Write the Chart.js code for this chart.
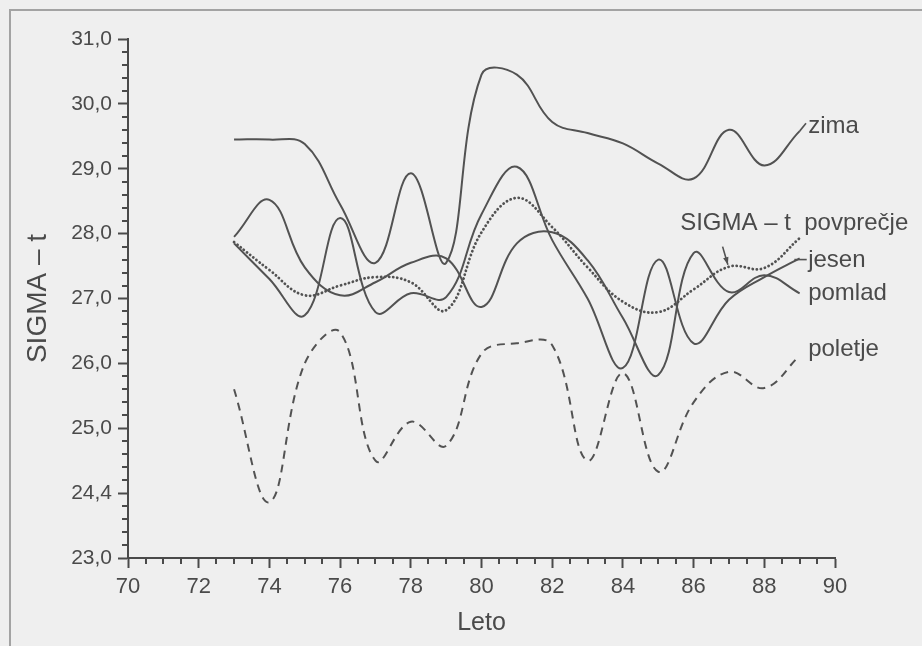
<!DOCTYPE html>
<html>
<head>
<meta charset="utf-8">
<script src="https://cdn.jsdelivr.net/npm/chart.js@4.4.1/dist/chart.umd.min.js"></script>
<style>
  html, body { margin: 0; padding: 0; background: #efefef; }
  #wrap { position: relative; width: 922px; height: 646px; overflow: hidden; }
  #frame { position: absolute; left: 9px; top: 9px; width: 1100px; height: 800px; border-top: 2px solid #a3a3a3; border-left: 2px solid #a3a3a3; }
  canvas { position: absolute; left: 0; top: 0; }
</style>
</head>
<body>
<div id="wrap">
  <div id="frame"></div>
  <canvas id="chart" width="922" height="646"></canvas>
</div>
<script>
// SIGMA-t po letnih časih, leta 1973-1989 (odčitano s slike)
const YEARS     = [73, 74, 75, 76, 77, 78, 79, 80, 81, 82, 83, 84, 85, 86, 87, 88, 89];
const ZIMA      = [29.45, 29.45, 29.38, 28.45, 27.55, 28.93, 27.55, 30.45, 30.45, 29.72, 29.55, 29.39, 29.08, 28.85, 29.6, 29.05, 29.58];
const JESEN     = [27.85, 27.3, 26.74, 28.24, 26.79, 27.08, 27.02, 28.3, 29.03, 27.9, 27.0, 25.93, 27.6, 26.31, 26.98, 27.33, 27.62];
const POMLAD    = [27.95, 28.52, 27.48, 27.05, 27.25, 27.55, 27.62, 26.87, 27.85, 28.02, 27.59, 26.7, 25.82, 27.7, 27.1, 27.36, 27.08];
const POLETJE   = [25.6, 23.86, 26.0, 26.48, 24.5, 25.1, 24.73, 26.15, 26.31, 26.28, 24.5, 25.85, 24.33, 25.4, 25.87, 25.62, 26.12];
const POVPRECJE = [27.87, 27.44, 27.05, 27.2, 27.33, 27.25, 26.82, 28.02, 28.55, 28.1, 27.48, 26.95, 26.79, 27.14, 27.49, 27.47, 27.93];

const Y_TICK_LABELS = ['23,0', '24,4', '25,0', '26,0', '27,0', '28,0', '29,0', '30,0', '31,0'];
const X_TITLE = 'Leto';
const Y_TITLE = 'SIGMA – t';

const INK = '#4a4a4a';
const LINE = '#525252';
const FONT = '"Liberation Sans", Arial, Helvetica, sans-serif';

const toPoints = vals => YEARS.map((yr, i) => ({ x: yr, y: vals[i] }));

function series(label, vals, extra) {
  return Object.assign({
    label,
    data: toPoints(vals),
    borderColor: LINE,
    borderWidth: 2,
    pointRadius: 0,
    fill: false,
    tension: 0.4,
  }, extra || {});
}

// minor ticks: every 0.5 on x, every 0.2 on y
const minorTicks = {
  id: 'minorTicks',
  afterDraw(chart) {
    const { ctx, chartArea, scales: { x, y } } = chart;
    ctx.save();
    ctx.strokeStyle = INK;
    ctx.lineWidth = 2;
    ctx.beginPath();
    for (let i = 1; i < 40; i++) {
      if (i % 4 === 0) continue;
      const px = Math.round(x.getPixelForValue(70 + i * 0.5));
      ctx.moveTo(px, chartArea.bottom);
      ctx.lineTo(px, chartArea.bottom + 6);
    }
    for (let i = 1; i < 40; i++) {
      if (i % 5 === 0) continue;
      const py = Math.round(y.getPixelForValue(23 + i * 0.2));
      ctx.moveTo(chartArea.left, py);
      ctx.lineTo(chartArea.left - 6, py);
    }
    ctx.stroke();
    ctx.restore();
  }
};

// labels at the right hand ends of the curves
const LABEL_SPOTS = [
  { text: 'zima', x: 89.24, y: 29.66 },
  { text: 'SIGMA – t  povprečje', x: 85.62, y: 28.16 },
  { text: 'jesen', x: 89.24, y: 27.59 },
  { text: 'pomlad', x: 89.24, y: 27.08 },
  { text: 'poletje', x: 89.24, y: 26.22 },
];

const curveLabels = {
  id: 'curveLabels',
  afterDatasetsDraw(chart) {
    const { ctx, scales: { x, y } } = chart;
    const P = (vx, vy) => [x.getPixelForValue(vx), y.getPixelForValue(vy)];
    ctx.save();
    ctx.fillStyle = INK;
    ctx.font = '24px ' + FONT;
    ctx.textBaseline = 'middle';
    LABEL_SPOTS.forEach(s => {
      const [px, py] = P(s.x, s.y);
      ctx.fillText(s.text, px, py);
    });

    ctx.strokeStyle = LINE;
    ctx.lineWidth = 1.6;
    const seg = (a, b) => {
      ctx.beginPath();
      ctx.moveTo(...P(a[0], a[1]));
      ctx.lineTo(...P(b[0], b[1]));
      ctx.stroke();
    };
    seg([89, 29.58], [89.18, 29.7]);   // zima
    seg([88.85, 27.6], [89.2, 27.6]);  // jesen
    // arrow to the average curve
    const a = P(86.82, 27.8), b = P(86.97, 27.52);
    ctx.beginPath(); ctx.moveTo(a[0], a[1]); ctx.lineTo(b[0], b[1]); ctx.stroke();
    const ang = Math.atan2(b[1] - a[1], b[0] - a[0]);
    ctx.beginPath();
    ctx.moveTo(b[0], b[1]);
    ctx.lineTo(b[0] - 8 * Math.cos(ang - 0.35), b[1] - 8 * Math.sin(ang - 0.35));
    ctx.lineTo(b[0] - 8 * Math.cos(ang + 0.35), b[1] - 8 * Math.sin(ang + 0.35));
    ctx.closePath();
    ctx.fillStyle = LINE;
    ctx.fill();
    ctx.restore();
  }
};

new Chart(document.getElementById('chart'), {
  type: 'line',
  data: {
    datasets: [
      series('zima', ZIMA),
      series('jesen', JESEN),
      series('pomlad', POMLAD),
      series('poletje', POLETJE, { borderDash: [8, 6] }),
      series('SIGMA – t povprečje', POVPRECJE, { borderDash: [0.1, 4], borderCapStyle: 'round', borderWidth: 2.8 }),
    ],
  },
  options: {
    responsive: false,
    animation: false,
    devicePixelRatio: 1,
    layout: { padding: { left: 0, top: 39, right: 87, bottom: 0 } },
    plugins: { legend: { display: false }, tooltip: { enabled: false } },
    scales: {
      x: {
        type: 'linear',
        min: 70,
        max: 90,
        afterFit: s => { s.height = 88; },
        border: { display: true, color: INK, width: 2 },
        grid: { drawOnChartArea: false, drawTicks: true, tickLength: 10, tickColor: INK, tickWidth: 2 },
        ticks: { stepSize: 2, color: INK, padding: 6, font: { family: FONT, size: 22 }, callback: v => String(v) },
        title: { display: true, text: X_TITLE, color: INK, font: { family: FONT, size: 25 }, padding: { top: 0, bottom: 8 } },
      },
      y: {
        type: 'linear',
        min: 23,
        max: 31,
        afterFit: s => { s.width = 128; },
        border: { display: true, color: INK, width: 2 },
        grid: { drawOnChartArea: false, drawTicks: true, tickLength: 10, tickColor: INK, tickWidth: 2 },
        ticks: { stepSize: 1, color: INK, padding: 6, font: { family: FONT, size: 21 }, callback: (v, i) => Y_TICK_LABELS[i] },
        title: { display: true, text: Y_TITLE, color: INK, font: { family: FONT, size: 28 }, padding: { top: 21, bottom: 0 } },
      },
    },
  },
  plugins: [minorTicks, curveLabels],
});
</script>
</body>
</html>
